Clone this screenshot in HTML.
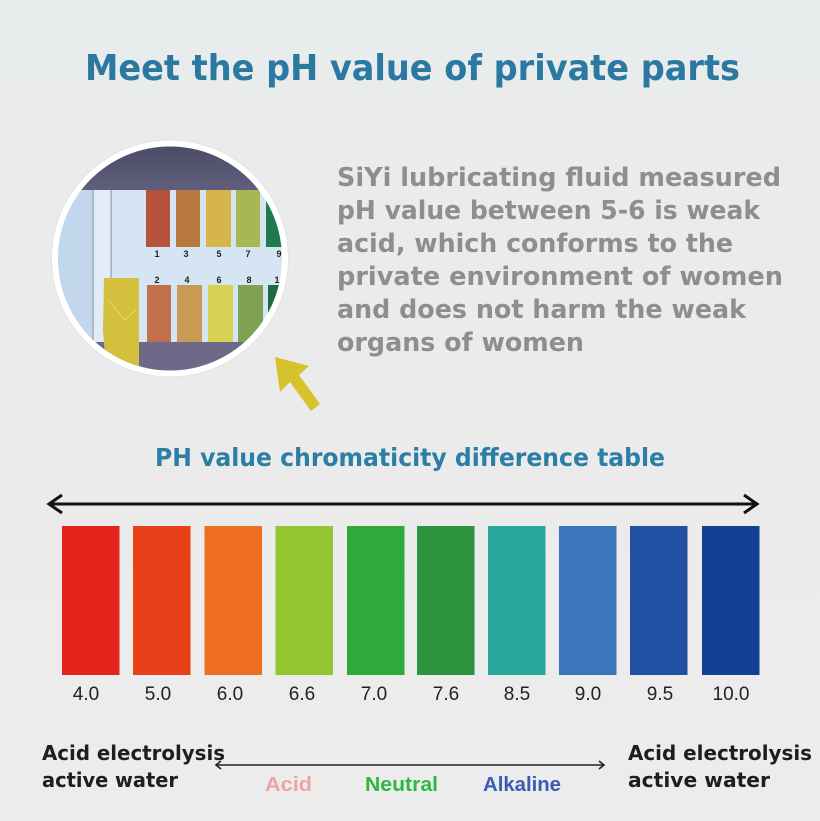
<!DOCTYPE html>
<html><head><meta charset="utf-8">
<style>
html,body{margin:0;padding:0;background:#ebebeb;}
svg{display:block;}
</style></head>
<body>
<svg width="820" height="821" viewBox="0 0 820 821" xmlns="http://www.w3.org/2000/svg">
<defs>
<linearGradient id="bg" x1="0" y1="0" x2="0" y2="1">
<stop offset="0" stop-color="#e9ecec"/>
<stop offset="0.5" stop-color="#ebebeb"/>
<stop offset="1" stop-color="#ececec"/>
</linearGradient>
<clipPath id="cc"><circle cx="170" cy="258.5" r="112"/></clipPath>
<linearGradient id="topband" x1="0" y1="0" x2="0" y2="1">
<stop offset="0" stop-color="#4a4963"/>
<stop offset="1" stop-color="#5f5e7c"/>
</linearGradient>
</defs>
<rect width="820" height="821" fill="url(#bg)"/>

<!-- Title -->
<text x="85" y="80" font-family="DejaVu Sans, Liberation Sans, sans-serif" font-weight="bold" font-size="36" fill="#2b78a1" textLength="655" lengthAdjust="spacingAndGlyphs">Meet the pH value of private parts</text>

<!-- Circle photo -->
<circle cx="170" cy="258.5" r="119" fill="#dcdcdc" opacity="0.5"/>
<circle cx="170" cy="258.5" r="118" fill="#ffffff"/>
<g clip-path="url(#cc)">
<rect x="50" y="140" width="240" height="240" fill="#d6e5f3"/>
<rect x="50" y="140" width="43" height="240" fill="#c3d7ec"/>
<rect x="93" y="190" width="18" height="160" fill="#e1ecf7"/>
<rect x="92.5" y="190" width="1.2" height="160" fill="#8f9fb0"/>
<rect x="110.5" y="190" width="1.2" height="160" fill="#8f9fb0"/>
<rect x="50" y="140" width="240" height="50" fill="url(#topband)"/>
<rect x="50" y="342" width="240" height="40" fill="#6c6a88"/>
<!-- top strips -->
<rect x="146" y="190" width="24" height="57" fill="#b5543b"/>
<rect x="176" y="190" width="24" height="57" fill="#b8773f"/>
<rect x="206" y="190" width="25" height="57" fill="#d5b44c"/>
<rect x="236" y="190" width="24" height="57" fill="#a8b654"/>
<rect x="266" y="190" width="20" height="57" fill="#1f7a4e"/>
<!-- numbers -->
<g font-family="Liberation Sans, sans-serif" font-weight="bold" font-size="9" fill="#222" text-anchor="middle">
<text x="157" y="257">1</text><text x="186" y="257">3</text><text x="219" y="257">5</text><text x="248" y="257">7</text><text x="279" y="257">9</text>
<text x="157" y="283">2</text><text x="187" y="283">4</text><text x="219" y="283">6</text><text x="249" y="283">8</text><text x="277" y="283">1</text>
</g>
<!-- bottom strips -->
<rect x="147" y="285" width="24" height="57" fill="#c0714b"/>
<rect x="177" y="285" width="25" height="57" fill="#c89a56"/>
<rect x="208" y="285" width="25" height="57" fill="#d8d052"/>
<rect x="238" y="285" width="25" height="57" fill="#7fa151"/>
<rect x="268" y="285" width="20" height="57" fill="#1e6a41"/>
<!-- tape -->
<polygon points="104,278 139,278 139,368 106,370 103,330" fill="#d4c03c"/>
<polyline points="108,300 125,320 136,310" fill="none" stroke="#e6d866" stroke-width="1"/>
</g>

<!-- yellow arrow -->
<polygon points="275,357 309,366 299,375 320,404 311,411 290,382 280,392" fill="#d6c32b"/>

<!-- Paragraph -->
<g font-family="DejaVu Sans, Liberation Sans, sans-serif" font-weight="bold" font-size="26" fill="#8e8e8e">
<text x="337" y="186" textLength="444" lengthAdjust="spacingAndGlyphs">SiYi lubricating fluid measured</text>
<text x="337" y="219" textLength="423" lengthAdjust="spacingAndGlyphs">pH value between 5-6 is weak</text>
<text x="337" y="252" textLength="396" lengthAdjust="spacingAndGlyphs">acid, which conforms to the</text>
<text x="337" y="285" textLength="446" lengthAdjust="spacingAndGlyphs">private environment of women</text>
<text x="337" y="318" textLength="409" lengthAdjust="spacingAndGlyphs">and does not harm the weak</text>
<text x="337" y="351" textLength="247" lengthAdjust="spacingAndGlyphs">organs of women</text>
</g>

<!-- Subtitle -->
<text x="155" y="466" font-family="DejaVu Sans, Liberation Sans, sans-serif" font-weight="bold" font-size="25" fill="#2b7ea6" textLength="510" lengthAdjust="spacingAndGlyphs">PH value chromaticity difference table</text>

<!-- long arrow -->
<line x1="50" y1="504" x2="756" y2="504" stroke="#111" stroke-width="3"/>
<polyline points="62,495 49,504 62,513" fill="none" stroke="#111" stroke-width="3"/>
<polyline points="744,495 757,504 744,513" fill="none" stroke="#111" stroke-width="3"/>

<!-- bars -->
<rect x="62" y="526" width="57.5" height="149" fill="#e3241c"/>
<rect x="133" y="526" width="57.5" height="149" fill="#e84119"/>
<rect x="204.5" y="526" width="57.5" height="149" fill="#ee6e1f"/>
<rect x="275.5" y="526" width="57.5" height="149" fill="#95c530"/>
<rect x="347" y="526" width="57.5" height="149" fill="#2faa3a"/>
<rect x="417" y="526" width="57.5" height="149" fill="#2b923e"/>
<rect x="488" y="526" width="57.5" height="149" fill="#27a79c"/>
<rect x="559" y="526" width="57.5" height="149" fill="#3a76b9"/>
<rect x="630" y="526" width="57.5" height="149" fill="#2151a2"/>
<rect x="702" y="526" width="57.5" height="149" fill="#143f95"/>

<g font-family="Liberation Sans, Arial, sans-serif" font-size="19" fill="#222" text-anchor="middle">
<text x="86" y="700">4.0</text>
<text x="158" y="700">5.0</text>
<text x="230" y="700">6.0</text>
<text x="302" y="700">6.6</text>
<text x="374" y="700">7.0</text>
<text x="446" y="700">7.6</text>
<text x="517" y="700">8.5</text>
<text x="588" y="700">9.0</text>
<text x="660" y="700">9.5</text>
<text x="731" y="700">10.0</text>
</g>

<!-- bottom -->
<g font-family="DejaVu Sans, Liberation Sans, sans-serif" font-weight="bold" font-size="20" fill="#1e1e1e">
<text x="42" y="760" textLength="183" lengthAdjust="spacingAndGlyphs">Acid electrolysis</text>
<text x="42" y="787" textLength="136" lengthAdjust="spacingAndGlyphs">active water</text>
<text x="628" y="760" textLength="184" lengthAdjust="spacingAndGlyphs">Acid electrolysis</text>
<text x="628" y="787" textLength="142" lengthAdjust="spacingAndGlyphs">active water</text>
</g>
<line x1="216" y1="765" x2="604" y2="765" stroke="#222" stroke-width="1.6"/>
<polyline points="221,761 216,765 221,769" fill="none" stroke="#222" stroke-width="1.6"/>
<polyline points="599,761 604,765 599,769" fill="none" stroke="#222" stroke-width="1.6"/>

<g font-family="Liberation Sans Narrow, Liberation Sans, sans-serif" font-weight="bold" font-size="20">
<text x="265" y="791" fill="#f0a3a3" textLength="47" lengthAdjust="spacingAndGlyphs">Acid</text>
<text x="365" y="791" fill="#2db743" textLength="73" lengthAdjust="spacingAndGlyphs">Neutral</text>
<text x="483" y="791" fill="#3d5bb2" textLength="78" lengthAdjust="spacingAndGlyphs">Alkaline</text>
</g>
</svg>
</body></html>
